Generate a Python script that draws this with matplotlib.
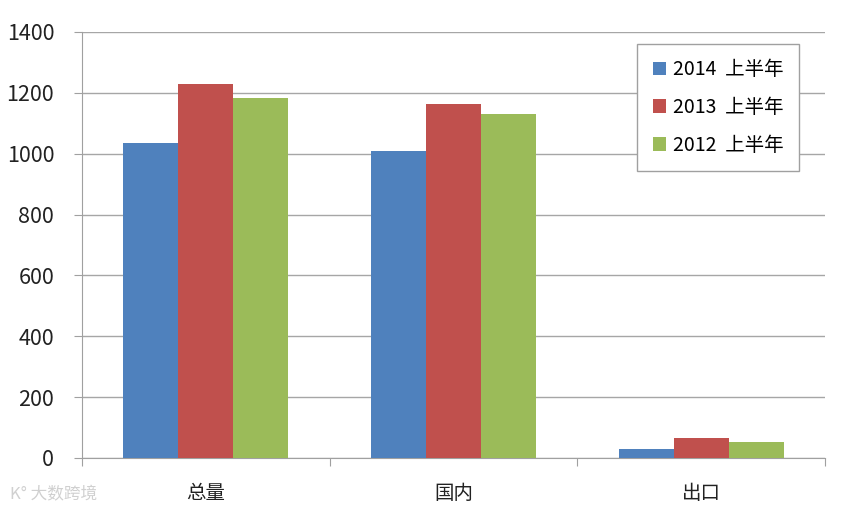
import numpy as np
from matplotlib import pyplot as plt

plt.rcParams['font.family'] = ['Noto Sans CJK SC', 'DejaVu Sans']

categories = ['总量', '国内', '出口']
series_names = ['2014  上半年', '2013  上半年', '2012  上半年']
values_2014 = [1034, 1008, 28]
values_2013 = [1229, 1164, 66]
values_2012 = [1182, 1129, 53]
colors = ['#4F81BD', '#C0504D', '#9BBB59']
y_ticks = [0, 200, 400, 600, 800, 1000, 1200, 1400]

fig = plt.figure(figsize=(8.42, 5.15), dpi=100)
ax = fig.add_axes([0.0974, 0.1107, 0.8824, 0.8272])

x = np.arange(len(categories))
width = 0.222
for i, vals in enumerate([values_2014, values_2013, values_2012]):
    ax.bar(x + (i - 1) * width, vals, width, color=colors[i], label=series_names[i], zorder=3)

ax.set_xlim(-0.5, 2.5)
ax.set_ylim(0, 1400)
ax.set_yticks(y_ticks)
ax.set_yticklabels([str(v) for v in y_ticks], fontsize=15.5, color='#222222')
ax.set_xticks([-0.5, 0.5, 1.5, 2.5])
ax.set_xticklabels([])
ax.set_xticks(x, minor=True)
ax.set_xticklabels(categories, minor=True, fontsize=14, color='#222222')
ax.tick_params(axis='x', which='minor', length=0, pad=18)
ax.tick_params(axis='x', which='major', length=6, color='#a0a0a0')
ax.tick_params(axis='y', length=6, color='#a0a0a0', pad=14)
ax.grid(axis='y', color='#a6a6a6', linewidth=1, zorder=0)
for s in ['top', 'right']:
    ax.spines[s].set_visible(False)
for s in ['left', 'bottom']:
    ax.spines[s].set_color('#a0a0a0')

leg = ax.legend(loc='upper left', bbox_to_anchor=(0.747, 0.972), fontsize=14,
                handlelength=0.7, handleheight=0.7, labelspacing=0.85,
                handletextpad=0.35, borderpad=0.8, fancybox=False, framealpha=1,
                edgecolor='#a0a0a0', borderaxespad=0)
leg.get_frame().set_linewidth(1)

fig.text(0.012, 0.03, 'K° 大数跨境', fontsize=12, color='#d0d0d0')

fig.savefig('out.png', dpi=100)
